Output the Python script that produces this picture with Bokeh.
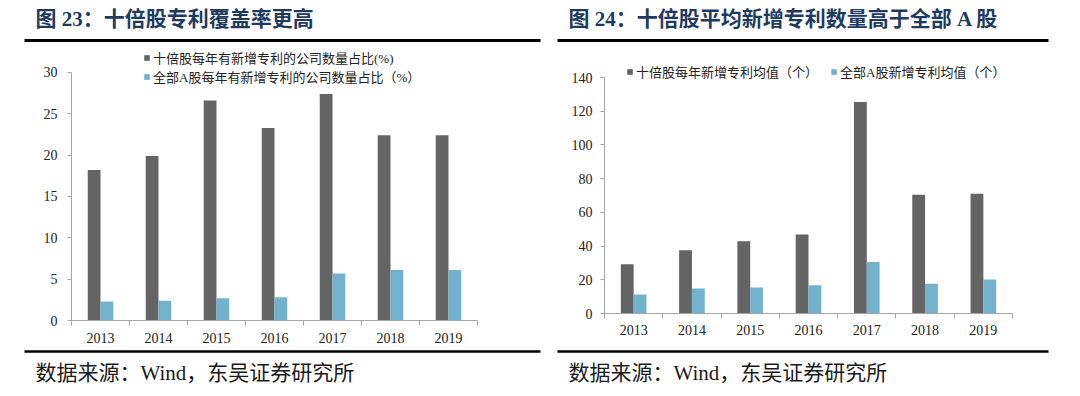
from bokeh.plotting import figure
from bokeh.models import Range1d, FixedTicker, Legend, LegendItem, ColumnDataSource
from bokeh.layouts import row, column
from bokeh.transform import dodge
from bokeh.core.properties import value
from bokeh.embed import file_html
from bokeh.resources import INLINE

# ---------------- data ----------------
years = [2013, 2014, 2015, 2016, 2017, 2018, 2019]
share_tenbagger = [18.2, 19.9, 26.6, 23.3, 27.4, 22.4, 22.4]
share_all_a = [2.3, 2.4, 2.7, 2.8, 5.7, 6.1, 6.1]
avg_tenbagger = [29.2, 37.5, 42.8, 46.9, 125.4, 70.4, 71.0]
avg_all_a = [11.2, 14.8, 15.4, 16.8, 30.6, 17.6, 20.1]

left_title = "图 23：十倍股专利覆盖率更高"
right_title = "图 24：十倍股平均新增专利数量高于全部 A 股"
left_labels = ["十倍股每年有新增专利的公司数量占比(%)", "全部A股每年有新增专利的公司数量占比（%）"]
right_labels = ["十倍股每年新增专利均值（个）", "全部A股新增专利均值（个）"]
source_text = "数据来源：Wind，东吴证券研究所"

left_yticks = [0, 5, 10, 15, 20, 25, 30]
right_yticks = [0, 20, 40, 60, 80, 100, 120, 140]

DARK = "#646464"
BLUE = "#72B2CC"
NAVY = "#1F3A5F"
AXIS = "#A6A6A6"
FONT = "'Liberation Serif', 'Noto Sans CJK SC'"


def deco_fig(w, h, x0, x1, y0, y1):
    p = figure(width=w, height=h, x_range=Range1d(x0, x1), y_range=Range1d(y1, y0),
               output_backend="svg", toolbar_location=None, min_border=0)
    p.axis.visible = False
    p.grid.visible = False
    p.outline_line_color = None
    return p


def title_fig(w, x0, x1, text, tx, lx0, lx1):
    p = deco_fig(w, 44, x0, x1, 0, 44)
    p.text(x=[tx], y=[18], text=[text], text_font=value(FONT), text_font_size="21px",
           text_font_style="bold", text_color=NAVY, text_baseline="middle")
    p.segment(x0=[lx0], y0=[40], x1=[lx1], y1=[40], line_width=3, line_color="#000000")
    return p


def source_fig(w, x0, x1, tx, lx0, lx1):
    p = deco_fig(w, 48, x0, x1, 348, 396)
    p.segment(x0=[lx0], y0=[351], x1=[lx1], y1=[351], line_width=2.5, line_color="#000000")
    p.text(x=[tx], y=[372], text=[source_text], text_font=value(FONT), text_font_size="21px",
           text_color="#1a1a1a", text_baseline="middle")
    return p


def chart_fig(w, ytop, yend, yticks, ser_a, ser_b, labels, bl, br, bt, bb,
              ystand, xstand, leg_loc, orientation):
    src = ColumnDataSource(dict(year=years, a=ser_a, b=ser_b))
    p = figure(width=w, height=304, x_range=Range1d(2012.5, 2019.5), y_range=Range1d(0, yend),
               output_backend="svg", toolbar_location=None,
               min_border_left=bl, min_border_right=br, min_border_top=bt, min_border_bottom=bb)
    p.grid.visible = False
    p.outline_line_color = None
    ra = p.vbar(x=dodge("year", -0.11, range=p.x_range), top="a", width=0.22, source=src,
                fill_color=DARK, line_color=None)
    rb = p.vbar(x=dodge("year", 0.11, range=p.x_range), top="b", width=0.22, source=src,
                fill_color=BLUE, line_color=None)

    p.xaxis.ticker = FixedTicker(ticks=years, minor_ticks=[y - 0.5 for y in years] + [years[-1] + 0.5])
    p.xaxis.major_tick_line_color = None
    p.xaxis.major_tick_out = 4
    p.xaxis.minor_tick_out = 5
    p.xaxis.minor_tick_in = 0
    p.xaxis.minor_tick_line_color = AXIS
    p.xaxis.major_label_standoff = xstand

    p.yaxis.ticker = FixedTicker(ticks=yticks)
    p.yaxis.bounds = (0, ytop)
    p.yaxis.major_tick_out = 4
    p.yaxis.major_tick_in = 0
    p.yaxis.minor_tick_line_color = None
    p.yaxis.major_tick_line_color = AXIS
    p.yaxis.major_label_standoff = ystand

    for ax in (p.xaxis, p.yaxis):
        ax.axis_line_color = AXIS
        ax.major_label_text_font = FONT
        ax.major_label_text_font_size = "14px"
        ax.major_label_text_color = "#222222"

    legend = Legend(items=[LegendItem(label=labels[0], renderers=[ra]),
                           LegendItem(label=labels[1], renderers=[rb])],
                    location=leg_loc, orientation=orientation,
                    label_text_font=FONT, label_text_font_size="13px", label_text_color="#222222",
                    glyph_width=7, glyph_height=7, label_standoff=3, label_height=14,
                    padding=0, spacing=0 if orientation == "vertical" else 12, margin=0,
                    background_fill_alpha=0, border_line_color=None)
    p.add_layout(legend, "center")
    return p


# left panel: page x 0..548
t1 = title_fig(548, 0, 548, left_title, 35, 24, 540)
c1 = chart_fig(548, 30, 32.66, left_yticks, share_tenbagger, share_all_a, left_labels,
               71, 71, 6, 28, 10, 7, (72, 234), "vertical")
s1 = source_fig(548, 0, 548, 35, 24, 540)

# right panel: page x 548..1080
t2 = title_fig(532, 548, 1080, right_title, 568, 557, 1048)
c2 = chart_fig(532, 140, 148.9, right_yticks, avg_tenbagger, avg_all_a, right_labels,
               56, 68, 18, 35, 8, 6, (22, 232), "horizontal")
s2 = source_fig(532, 548, 1080, 568, 557, 1048)

layout = row(column(t1, row(c1), s1), column(t2, row(c2), s2))

open("out.html", "w").write(file_html(layout, INLINE))
